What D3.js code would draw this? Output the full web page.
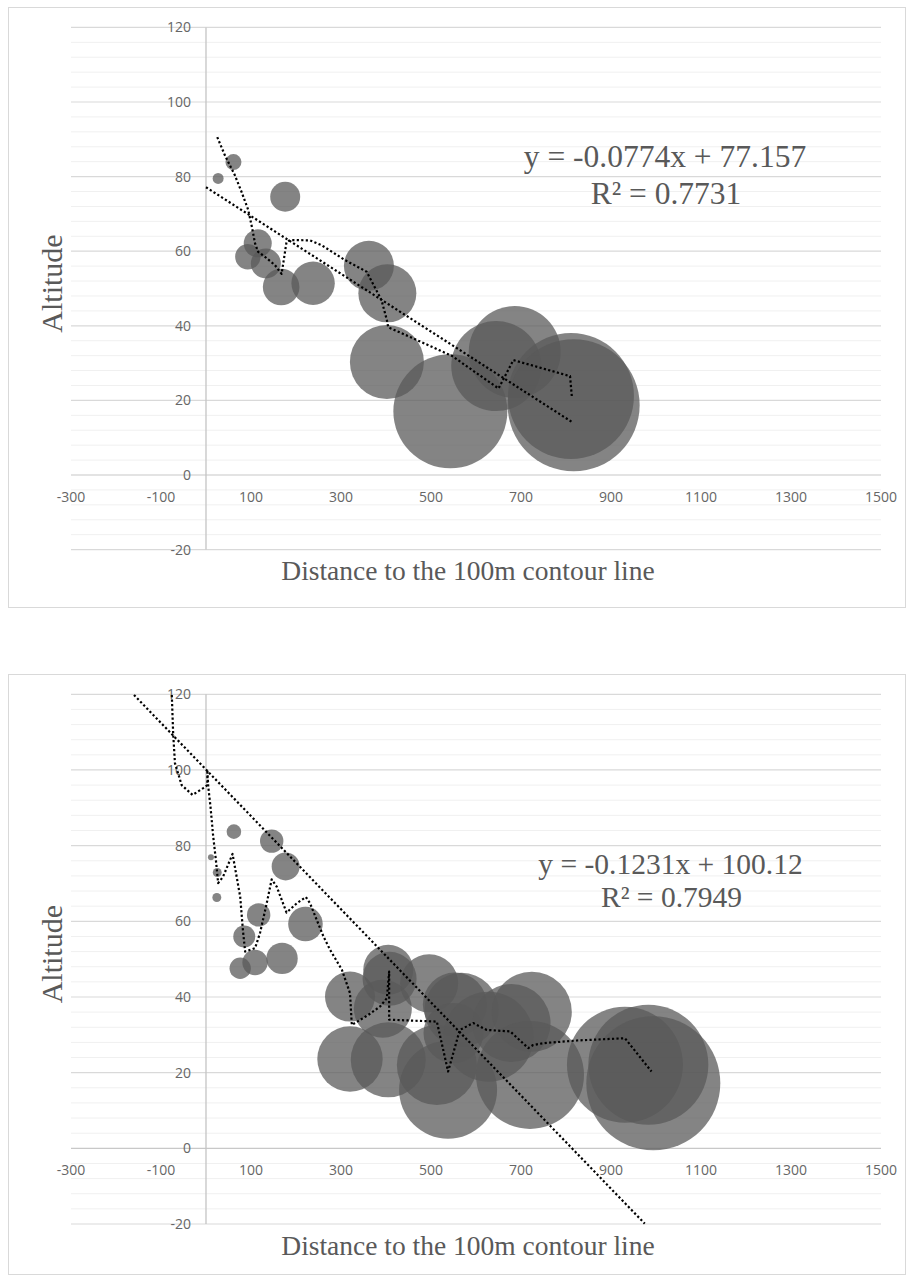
<!DOCTYPE html>
<html>
<head>
<meta charset="utf-8">
<script src="https://cdn.jsdelivr.net/npm/d3@7"></script>
<style>
  body { margin: 0; background: #fff; }
</style>
</head>
<body>
<div id="chart-area"></div>
<script>
// axis ticks (shared by both charts)
var xTicks = [-300, -100, 100, 300, 500, 700, 900, 1100, 1300, 1500];
var yTicks = [-20, 0, 20, 40, 60, 80, 100, 120];

// chart 1 : bubbles
var topDistance = [27, 61, 176, 115, 93, 133, 167, 238, 362, 403, 402, 543, 686, 645, 811, 817];
var topAltitude = [79.5, 83.9, 74.6, 62.1, 58.5, 56.7, 50.4, 51.4, 56.1, 48.7, 30.3, 17.1, 33, 29.2, 21.2, 18.7];
var topSize = [3, 6.4, 22.5, 19.6, 16.1, 22.5, 33.5, 47.1, 62.5, 84.1, 136.9, 324.9, 211.6, 202.5, 396.9, 435.6];
// chart 1 : moving average trendline
var topMaDistance = [25, 42, 64, 79, 94, 102, 109, 116, 131, 153, 168, 179, 187, 231, 257, 309, 357, 390, 402, 405, 461, 547, 650, 683, 809, 813];
var topMaAltitude = [90.6, 85.7, 80.4, 75.9, 71.0, 66.5, 62.1, 59.8, 58.5, 56.3, 53.9, 62.5, 63.0, 62.9, 61.6, 57.6, 54.5, 46.9, 41.5, 39.6, 36.6, 31.9, 23.2, 30.8, 26.5, 21.0];
// chart 1 : linear trendline
var topSlope = -0.0774, topIntercept = 77.157, topR2 = "0.7731";
var topTrendRange = [0, 815];

// chart 2 : bubbles
var botDistance = [11, 25, 24, 62, 146, 177, 117, 85, 221, 169, 109, 76, 320, 320, 405, 408, 393, 405, 496, 553, 513, 538, 568, 550, 628, 679, 724, 720, 931, 983, 994];
var botAltitude = [76.9, 72.9, 66.3, 83.7, 81.2, 74.5, 61.7, 56, 59.3, 50.2, 49.1, 47.6, 40.1, 23.6, 47.2, 44.8, 36.9, 23.4, 43.6, 38, 22, 15.5, 36.6, 30.5, 29.5, 33.1, 36.1, 19.4, 22.1, 22.1, 17.2];
var botSize = [0.9, 2, 2, 5.3, 13.7, 19.6, 13.7, 12.1, 29.9, 24.6, 16.1, 11.4, 62.5, 106.9, 62.5, 72.9, 84.1, 140.6, 84.1, 102.4, 160, 240.1, 136.9, 90, 202.5, 152.1, 160, 291.6, 336.4, 360, 448.9];
// chart 2 : moving average trendline
var botMaDistance = [-76, -73, -69, -54, -30, -6, 3, 3, 5, 10, 16, 22, 27, 38, 59, 64, 76, 82, 87, 109, 120, 135, 146, 157, 179, 202, 222, 231, 246, 261, 276, 302, 320, 324, 361, 387, 402, 407, 407, 513, 538, 564, 594, 624, 676, 716, 727, 750, 824, 931, 990];
var botMaAltitude = [119.8, 109.7, 101.8, 96.0, 93.4, 95.2, 96.0, 100.0, 95.6, 90.3, 82.4, 76.2, 70.1, 71.8, 77.8, 74.5, 66.5, 57.7, 52.0, 52.9, 56.9, 64.8, 71.1, 69.2, 62.3, 64.8, 66.4, 64.8, 60.4, 56.0, 52.4, 47.2, 41.0, 32.6, 35.3, 37.5, 39.7, 46.7, 34.0, 33.5, 20.3, 31.3, 33.1, 31.3, 30.9, 26.5, 27.3, 27.8, 28.5, 29.1, 20.3];
// chart 2 : linear trendline
var botSlope = -0.1231, botIntercept = 100.12, botR2 = "0.7949";
var botTrendRange = [-160, 975];

var width = 907, height = 1280;

var svg = d3.select("#chart-area")
    .append("svg")
        .attr("width", width)
        .attr("height", height);

var x = d3.scaleLinear().domain([-300, 1500]).range([71, 881]);
var area = d3.scaleSqrt().domain([0, 1000]).range([0, 100]);

function drawChart(opt) {
    var g = svg.append("g");
    var y = d3.scaleLinear().domain([-20, 120]).range([opt.bottom, opt.top]);

    // frame
    g.append("rect")
        .attr("x", 8.5).attr("y", opt.boxTop + 0.5)
        .attr("width", 897).attr("height", 600)
        .attr("fill", "none")
        .attr("stroke", "#d9d9d9");

    // minor + major gridlines
    var minor = d3.range(-20, 121, 4).filter((v) => v % 20 != 0);
    g.selectAll(".minor").data(minor).enter().append("line")
        .attr("x1", x(-300)).attr("x2", x(1500))
        .attr("y1", (d) => y(d)).attr("y2", (d) => y(d))
        .attr("stroke", "#f0f0f0").attr("stroke-width", 1);
    g.selectAll(".major").data(yTicks).enter().append("line")
        .attr("x1", x(-300)).attr("x2", x(1500))
        .attr("y1", (d) => y(d)).attr("y2", (d) => y(d))
        .attr("stroke", (d) => d == 0 ? "#c8c8c8" : "#d9d9d9")
        .attr("stroke-width", 1.2);

    // vertical axis at x = 0
    g.append("line")
        .attr("x1", x(0)).attr("x2", x(0))
        .attr("y1", y(120)).attr("y2", y(-20))
        .attr("stroke", "#c4c4c4").attr("stroke-width", 1.3);

    // tick labels
    g.selectAll(".ylab").data(yTicks).enter().append("text")
        .attr("x", 191).attr("y", (d) => y(d))
        .attr("dy", "0.36em")
        .attr("text-anchor", "end")
        .attr("font-family", "Open Sans")
        .attr("font-size", "14px")
        .attr("fill", "#666")
        .text((d) => d);
    g.selectAll(".xlab").data(xTicks).enter().append("text")
        .attr("x", (d) => x(d)).attr("y", y(0) + 26.5)
        .attr("text-anchor", "middle")
        .attr("font-family", "Open Sans")
        .attr("font-size", "14px")
        .attr("fill", "#666")
        .text((d) => d);

    // bubbles
    g.selectAll("circle").data(opt.dist).enter().append("circle")
        .attr("cx", (d) => x(d))
        .attr("cy", (d, i) => y(opt.alt[i]))
        .attr("r", (d, i) => area(opt.size[i]))
        .attr("fill", "#595959")
        .attr("fill-opacity", 0.74);

    // linear trendline
    var lin = opt.range.map((d) => [d, opt.slope * d + opt.intercept]);
    var line = d3.line().x((d) => x(d[0])).y((d) => y(d[1]));
    g.append("path")
        .attr("d", line(lin))
        .attr("fill", "none")
        .attr("stroke", "#000")
        .attr("stroke-width", 2.2)
        .attr("stroke-dasharray", "2.2,2.3");

    // moving average
    var ma = opt.maDist.map((d, i) => [d, opt.maAlt[i]]);
    g.append("path")
        .attr("d", line(ma))
        .attr("fill", "none")
        .attr("stroke", "#000")
        .attr("stroke-width", 2.2)
        .attr("stroke-linejoin", "round")
        .attr("stroke-dasharray", "2.2,2.3");

    // equation
    var eq = g.append("text")
        .attr("text-anchor", "middle")
        .attr("font-family", "Liberation Serif")
        .attr("font-size", opt.eqSize + "px")
        .attr("fill", "#595959");
    eq.append("tspan")
        .attr("x", opt.eqX).attr("y", opt.eqY)
        .text("y = " + opt.slope + "x + " + opt.intercept);
    eq.append("tspan")
        .attr("x", opt.eqX + 1).attr("y", opt.eqY + opt.eqGap)
        .text("R\u00b2 = " + opt.r2);

    // axis titles
    g.append("text")
        .attr("x", 468).attr("y", opt.bottom + 30.5)
        .attr("text-anchor", "middle")
        .attr("font-family", "Liberation Serif")
        .attr("font-size", "27.5px")
        .attr("fill", "#595959")
        .text("Distance to the 100m contour line");
    g.append("text")
        .attr("transform", "translate(62," + ((opt.top + opt.bottom) / 2 - 5) + ") rotate(-90)")
        .attr("text-anchor", "middle")
        .attr("font-family", "Liberation Serif")
        .attr("font-size", "30px")
        .attr("fill", "#595959")
        .text("Altitude");
}

drawChart({
    boxTop: 7, top: 27.4, bottom: 549.6,
    dist: topDistance, alt: topAltitude, size: topSize,
    maDist: topMaDistance, maAlt: topMaAltitude,
    slope: topSlope, intercept: topIntercept, r2: topR2, range: topTrendRange,
    eqX: 665, eqY: 167.3, eqSize: 31.5, eqGap: 36.7
});

drawChart({
    boxTop: 674, top: 694.3, bottom: 1224,
    dist: botDistance, alt: botAltitude, size: botSize,
    maDist: botMaDistance, maAlt: botMaAltitude,
    slope: botSlope, intercept: botIntercept, r2: botR2, range: botTrendRange,
    eqX: 670.5, eqY: 874.3, eqSize: 29.5, eqGap: 32.4
});
</script>
</body>
</html>
